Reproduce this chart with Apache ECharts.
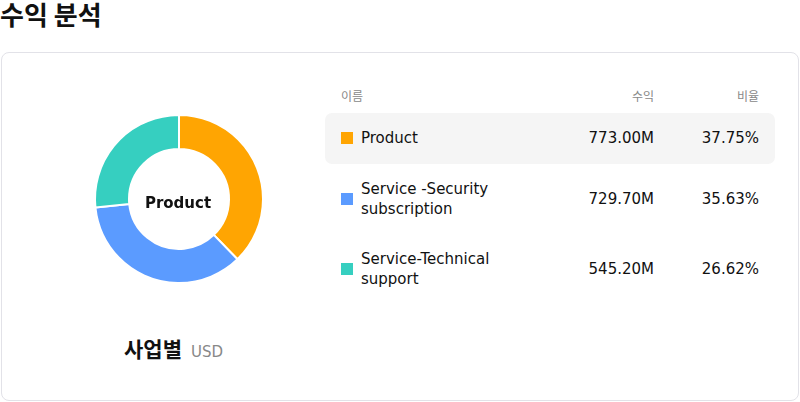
<!DOCTYPE html>
<html><head><meta charset="utf-8">
<script src="https://cdn.jsdelivr.net/npm/echarts@6/dist/echarts.min.js"></script>
<style>
body{margin:0;width:800px;height:402px;font-family:"DejaVu Sans","Noto Sans CJK KR",sans-serif;position:relative;overflow:hidden;background:#fff}
#title{position:absolute;left:0;top:-5px;font-size:26px;font-weight:bold;color:#111;font-family:"Noto Sans CJK KR",sans-serif}
#card{position:absolute;left:1px;top:52px;width:796px;height:347px;border:1px solid #e2e2e8;border-radius:8px}
#chart{position:absolute;left:60px;top:100px;width:236px;height:200px}
#cap{position:absolute;left:124px;top:333px;font-size:21px;font-weight:bold;color:#111;font-family:"Noto Sans CJK KR",sans-serif}
#cap span{font-size:15px;font-weight:normal;color:#888;margin-left:9px;font-family:"DejaVu Sans",sans-serif}
.h{position:absolute;top:87px;font-size:12px;color:#888;font-family:"Noto Sans CJK KR",sans-serif}
.row{position:absolute;left:325px;width:450px;height:50px;border-radius:7px;font-size:15px;color:#111}
.sq{position:absolute;left:16px;width:12px;height:12px}
.nm{position:absolute;left:36px;line-height:20px}
.v{position:absolute;right:121px;line-height:20px}
.p{position:absolute;right:16px;line-height:20px}
</style></head><body>
<div id="title">수익 분석</div>
<div id="card"></div>
<div id="chart"></div>
<div id="cap">사업별<span>USD</span></div>
<div class="h" style="left:341px">이름</div>
<div class="h" style="right:146px">수익</div>
<div class="h" style="right:41px">비율</div>
<div id="rows"></div>
<script>
const categories=["Product","Service -Security subscription","Service-Technical support"];
const labels=[["Product"],["Service -Security","subscription"],["Service-Technical","support"]];
const values=[773.00,729.70,545.20];
const percents=["37.75%","35.63%","26.62%"];
const colors=["#FFA502","#5B9BFF","#36CFC0"];
const rowTops=[114,174,244];
const rows=document.getElementById('rows');
categories.forEach((c,i)=>{
  const d=document.createElement('div');d.className='row';d.style.top=rowTops[i]+'px';
  if(i===0){d.style.background='#f5f5f5';d.style.top='113px';d.style.paddingTop='1px';}
  const two=labels[i].length>1;const t=two?5:15;
  d.innerHTML=`<div class="sq" style="top:19px;background:${colors[i]}"></div>
  <div class="nm" style="top:${t}px">${labels[i].join('<br>')}</div>
  <div class="v" style="top:15px">${values[i].toFixed(2)}M</div>
  <div class="p" style="top:15px">${percents[i]}</div>`;
  rows.appendChild(d);
});
const ch=echarts.init(document.getElementById('chart'));
ch.setOption({animation:false,
 title:{text:'Product',left:113,top:92,textAlign:'center',textStyle:{fontSize:15,fontWeight:'bold',color:'#111',fontFamily:'DejaVu Sans'}},
 series:[{type:'pie',radius:[50,84],center:[119,99],startAngle:90,clockwise:true,
  label:{show:false},labelLine:{show:false},
  itemStyle:{borderColor:'#fff',borderWidth:2},
  data:categories.map((c,i)=>({name:c,value:values[i],itemStyle:{color:colors[i]}}))}]});
</script>
</body></html>
